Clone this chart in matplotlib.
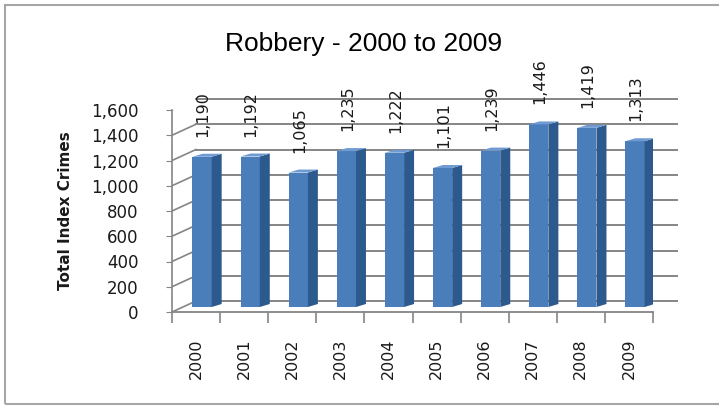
#!/usr/bin/python
# coding=utf-8
''' Robbery 2000-2009, excel style 3d columns '''

import matplotlib
matplotlib.use('Agg')
import matplotlib.pyplot as plt
from matplotlib.transforms import ScaledTranslation, IdentityTransform
from matplotlib.patches import Polygon, Rectangle
from matplotlib.ticker import FuncFormatter

plt.rcParams['font.family'] = 'DejaVu Sans'

years = ['2000', '2001', '2002', '2003', '2004',
         '2005', '2006', '2007', '2008', '2009']
robbery = [1190, 1192, 1065, 1235, 1222, 1101, 1239, 1446, 1419, 1313]
yticks = [0, 200, 400, 600, 800, 1000, 1200, 1400, 1600]

W, H, DPI = 719, 409, 100
WALL = (24, 11)      # back wall shift, px (right, up)
FRONT = (6, 5)       # bar front face shift
DEPTH = (10, 3)      # bar depth
BAR_W = 0.4
GRID = '#858585'
TXT = '#1a1a1a'

fig = plt.figure(figsize=(W / DPI, H / DPI), dpi=DPI)
# front plane: x 172..653 px, y 0 -> 312 px, 1600 -> 110 px (from top)
ax = fig.add_axes([172 / W, (H - 312) / H, 481 / W, 202 / H])
ax.set_xlim(-0.5, len(years) - 0.5)
ax.set_ylim(0, 1600)
ax.patch.set_visible(False)
for s in ['top', 'right', 'bottom']:
    ax.spines[s].set_visible(False)
ax.spines['left'].set_color(GRID)
ax.spines['left'].set_linewidth(1.2)


def shift(px):
    ''' offset transform in pixels '''
    return ax.transData + ScaledTranslation(px[0] / DPI, px[1] / DPI,
                                            fig.dpi_scale_trans)


def disp(x, y, off=(0, 0)):
    ''' data -> display px, with extra shift '''
    a, b = ax.transData.transform((x, y))
    return a + off[0], b + off[1]


x0, x1 = -0.5, len(years) - 0.5

# back wall gridlines + left wall slants
for v in yticks:
    ax.plot([x0, x1], [v, v], color=GRID, lw=1.4, transform=shift(WALL),
            clip_on=False, zorder=1)
    p = [disp(x0, v), disp(x0, v, WALL)]
    ax.add_line(plt.Line2D([p[0][0], p[1][0]], [p[0][1], p[1][1]],
                           color=GRID, lw=1.2, transform=IdentityTransform(),
                           zorder=1))

# floor: front edge + right slant
ax.plot([x0, x1], [0, 0], color=GRID, lw=1.3, clip_on=False, zorder=1)
p = [disp(x1, 0), disp(x1, 0, WALL)]
ax.add_line(plt.Line2D([p[0][0], p[1][0]], [p[0][1], p[1][1]],
                       color=GRID, lw=1.2, transform=IdentityTransform(),
                       zorder=1))

# bars
xs = list(range(len(years)))
bars = ax.bar(xs, robbery, width=BAR_W, color='#4a7ebb', zorder=3)
for b in bars:
    b.set_transform(shift(FRONT))
    b.set_clip_on(False)

for i, v in enumerate(robbery):
    fx = (FRONT[0] + DEPTH[0], FRONT[1] + DEPTH[1])
    r0 = disp(i + BAR_W / 2, 0, FRONT)
    r1 = disp(i + BAR_W / 2, v, FRONT)
    side = [r0, r1, disp(i + BAR_W / 2, v, fx), disp(i + BAR_W / 2, 0, fx)]
    ax.add_patch(Polygon(side, closed=True, fc='#2d5a8e', ec='none',
                         transform=IdentityTransform(), zorder=3))
    l1 = disp(i - BAR_W / 2, v, FRONT)
    top = [l1, r1, disp(i + BAR_W / 2, v, fx), disp(i - BAR_W / 2, v, fx)]
    ax.add_patch(Polygon(top, closed=True, fc='#6f9bd2', ec='none',
                         transform=IdentityTransform(), zorder=3))
    ax.text(i, v, '{:,}'.format(v), rotation=90, ha='center', va='bottom',
            fontsize=11.5, color=TXT, transform=shift((7, 25)), zorder=4)

# axes ticks
ax.set_yticks(yticks)
ax.yaxis.set_major_formatter(FuncFormatter(lambda v, _: '{:,}'.format(int(v))))
ax.tick_params(axis='y', length=4, color=GRID, labelsize=12, pad=20,
               labelcolor=TXT)
ax.set_xticks(xs)
ax.set_xticklabels(years, rotation=90, fontsize=11.5, color=TXT, va='top')
ax.set_xticks([i - 0.5 for i in range(len(years) + 1)], minor=True)
ax.tick_params(axis='x', which='major', length=0, pad=19)
ax.tick_params(axis='x', which='minor', length=8, color=GRID, width=1.2)

fig.text(364 / W, 1 - 44 / H, 'Robbery - 2000 to 2009', ha='center',
         va='center', fontsize=19, family='Liberation Sans', color='#000')
fig.text(65 / W, 1 - 211 / H, 'Total Index Crimes', rotation=90,
         ha='center', va='center', fontsize=11, fontweight='bold',
         color=TXT)

# chart frame
fig.patches.append(Rectangle((5 / W, 5 / H), 730 / W, 399 / H, fill=False,
                             ec='#a6a6a6', lw=1.5, transform=fig.transFigure))

fig.savefig('out.png', dpi=DPI)
